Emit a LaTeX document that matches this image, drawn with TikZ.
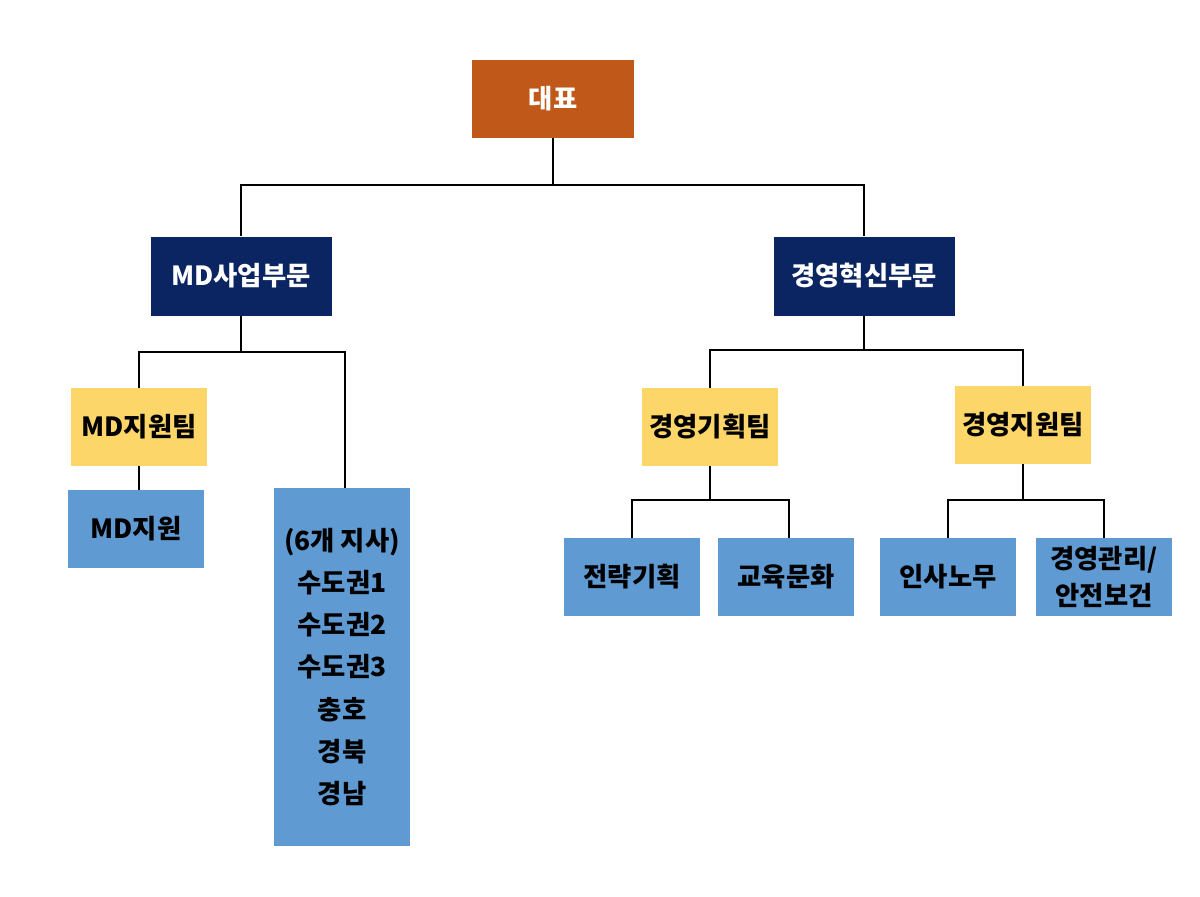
\documentclass[tikz,border=0pt]{standalone}
\usepackage{fontspec}
\setmainfont{Noto Sans CJK KR}
\usetikzlibrary{positioning}
\definecolor{ceoorange}{HTML}{C0581A}
\definecolor{divnavy}{HTML}{0B2462}
\definecolor{teamyellow}{HTML}{FDD66A}
\definecolor{unitblue}{HTML}{5F9BD2}
\begin{document}
\begin{tikzpicture}[x=0.02cm, y=-0.02cm,
        box/.style={rectangle, text centered, font=\fontsize{15}{24}\selectfont\bfseries, inner sep=0pt},
        ceo/.style={box, fill=ceoorange, text=white, minimum width=162*0.02cm, minimum height=78*0.02cm},
        division/.style={box, fill=divnavy, text=white, minimum width=181*0.02cm, minimum height=79*0.02cm},
        team/.style={box, fill=teamyellow, minimum width=136*0.02cm, minimum height=78*0.02cm},
        unit/.style={box, fill=unitblue, minimum width=136*0.02cm, minimum height=78*0.02cm, align=center},
        link/.style={draw=black, line width=0.6pt}
    ]
            \useasboundingbox (0,0) rectangle (1200,896);
            \node[ceo] (ceo) at (553,99) {대표};
            \node[division] (mdDiv) at (241,276) {MD사업부문};
            \node[division] (innoDiv) at (864,276) {경영혁신부문};
            \node[team] (mdTeam) at (139,427) {MD지원팀};
            \node[team] (planTeam) at (710,427) {경영기획팀};
            \node[team] (supTeam) at (1023,425) {경영지원팀};
            \node[unit] (mdSup) at (136,529) {MD지원};
            \node[unit, minimum height=358*0.02cm] (branch) at (342,667) {(6개 지사)\\수도권1\\수도권2\\수도권3\\충호\\경북\\경남};
            \node[unit] (strategy) at (632,577) {전략기획};
            \node[unit] (edu) at (786,577) {교육문화};
            \node[unit] (hr) at (948,577) {인사노무};
            \node[unit, font=\fontsize{15}{21}\selectfont\bfseries] (safety) at (1104,577) {경영관리/\\안전보건};

            % Bus lines
            \coordinate (busTop) at (553,185);
            \coordinate (busMd) at (241,352);
            \coordinate (busInno) at (864,350);
            \coordinate (busPlan) at (710,500);
            \coordinate (busSup) at (1023,500);

            % Connectors
            \draw[link] (ceo.south) -- (busTop) -| (mdDiv.north);
            \draw[link] (busTop) -| (innoDiv.north);
            \draw[link] (mdDiv.south) -- (busMd) -| (mdTeam.north);
            \draw[link] (busMd) -| ([xshift=3*0.02cm]branch.north);
            \draw[link] (mdTeam.south) -- (mdSup.north -| mdTeam.south);
            \draw[link] (innoDiv.south) -- (busInno) -| (planTeam.north);
            \draw[link] (busInno) -| (supTeam.north);
            \draw[link] (planTeam.south) -- (busPlan) -| (strategy.north);
            \draw[link] (busPlan) -| ([xshift=3*0.02cm]edu.north);
            \draw[link] (supTeam.south) -- (busSup) -| (hr.north);
            \draw[link] (busSup) -| (safety.north);
    \end{tikzpicture}
\end{document}
